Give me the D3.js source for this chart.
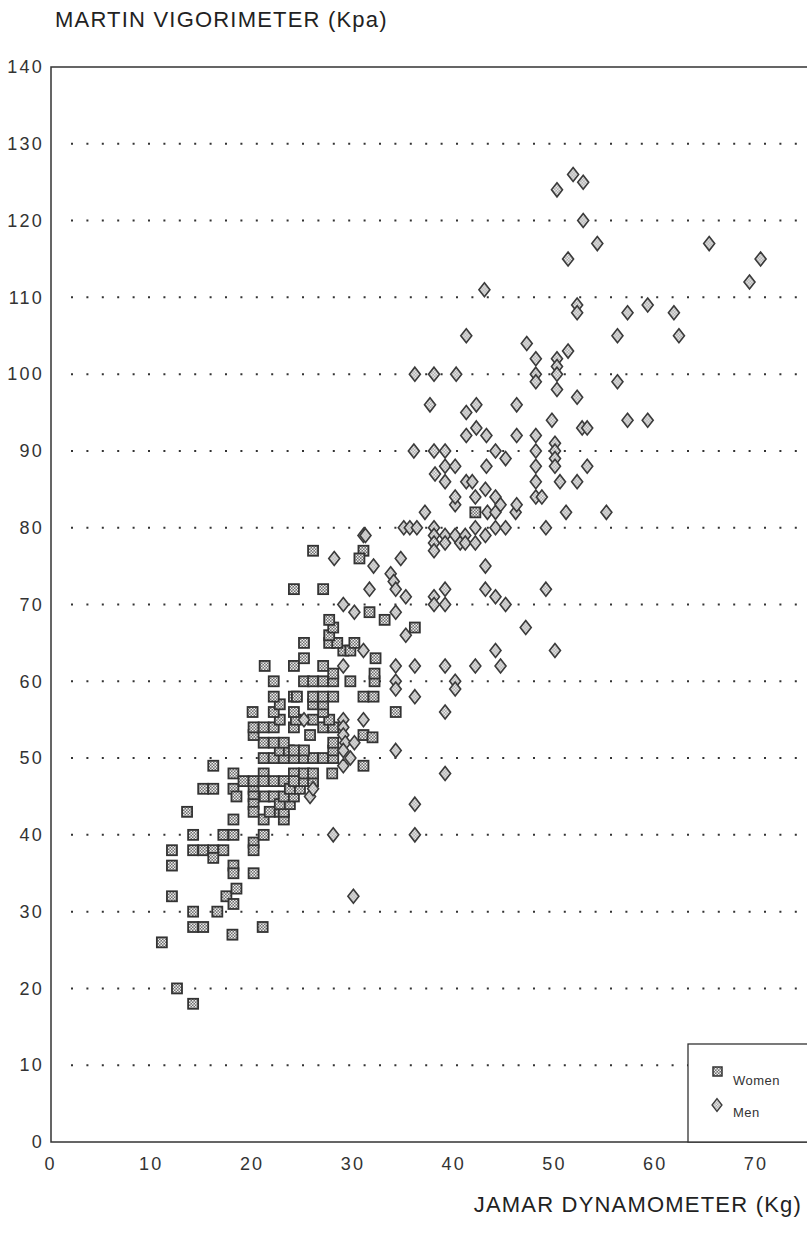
<!DOCTYPE html>
<html>
<head>
<meta charset="utf-8">
<script src="https://cdn.jsdelivr.net/npm/d3@7"></script>
<style>
  body { margin: 0; background: #fff; }
  svg { display: block; font-family: "Liberation Sans", Arial, sans-serif; }
</style>
</head>
<body>
<div id="chart"></div>
<script>
// Données : [dynamomètre Jamar (kg), vigorimètre Martin (kPa)]
const women = [
  [11,26],[12.5,20],[14.1,18],[14.1,28],[15.1,28],[21,28],[18,27],[14.1,30],[16.5,30],
  [12,32],[17.4,32],[18.1,31],[18.4,33],[12,36],[18.1,36],[18.1,35],[20.1,35],
  [12,38],[14.1,38],[15.1,38],[16.1,38],[17.1,38],[16.1,37],[20.1,39],[20.1,38],
  [14.1,40],[17.1,40],[18.1,40],[21.1,40],[13.5,43],[18.1,42],[21.1,42],[21.7,43],
  [22.7,43],[23.1,42],[23.1,43],[15.1,46],[16.1,46],[18.1,46],[18.4,45],[20.1,46],
  [20.1,45],[20.1,44],[20.1,43],[21.2,45],[22.1,45],[22.7,44],[23.7,45.4],[23.7,44],
  [16.1,49],[18.1,48],[21.1,48],[19.1,47],[20.1,47],[21.1,47],[22.1,47],[23.1,47],
  [24.1,48],[23.1,45],[24.1,45],[23.7,46],[24.7,46],[24.1,47],[25.1,47],[26,47],
  [25.1,48],[26,48],[27.9,48],[21.1,50],[22.1,50],[23.1,50],[24.1,50],[25.1,50],
  [26,50],[27,50],[28,50],[22.7,51],[23.6,51],[24.1,51],[25.1,51],[28,51],[21.1,52],
  [22.1,52],[23.1,52],[28,52],[20.1,53],[25.7,53],[20.1,54],[21.1,54],[22.1,54],
  [24.1,54],[27,54],[28,54],[22.7,55],[24.3,55],[26,55],[27.6,55],[20,56],[22.1,56],
  [24.1,56],[27,56],[26,57],[27,57],[22.7,57],[22.1,58],[24.1,58],[24.4,58],[26,58],
  [27,58],[28,58],[31,58],[32,58],[22.1,60],[25.1,60],[26,60],[27,60],[28,60],
  [29.7,60],[32.1,60],[28,61],[32.1,61],[21.2,62],[24.1,62],[27,62],[25.1,63],
  [32.2,63],[29,64],[29.7,64],[25.1,65],[27.6,65],[28.4,65],[30.1,65],[27.6,66],
  [28,67],[27.6,68],[33.1,68],[31.6,69],[24.1,72],[27,72],[31,53],[31.9,52.7],
  [34.2,56],[36.1,67],[26,77],[31,77],[30.6,76],[31,49],[42.1,82]
];
const men = [
  [30,32],[28,40],[36.1,40],[36.1,44],[39.1,48],[34.2,51],[39.1,56],[50,64],[44.1,64],
  [44.6,62],[42.1,62],[39.1,62],[36.1,62],[34.2,62],[29,62],[40.1,60],[40.1,59],
  [34.2,60],[34.2,59],[36.1,58],[31,55],[29,55],[25.1,55],[29,54],[29,53],[29.2,52],
  [30.1,52],[29,51],[29.7,50],[29,49],[25.7,45],[26,46],[31,64],[29,70],[30.1,69],
  [34.2,69],[35.2,66],[47.1,67],[49.1,72],[28.1,76],[32,75],[34.7,76],[33.7,74],
  [34,73],[34.2,72],[35.2,71],[31.6,72],[38,71],[39.1,72],[39.1,70],[38,70],[43.1,72],
  [44.1,71],[45.1,70],[43.1,75],[31,79],[31.2,79],[35,80],[35.6,80],[36.3,80],[38,80],
  [38,79],[38,78],[38,77],[39.1,79],[39.1,78],[40.1,79],[40.6,78],[41.1,79],[41.1,78],
  [42.1,80],[42.1,78],[43.1,79],[44.1,80],[45.1,80],[49.1,80],[37.1,82],[43.3,82],
  [44.1,82],[46.1,82],[51.1,82],[55.1,82],[40.1,83],[40.1,84],[42.1,84],[43.1,85],
  [44.1,84],[44.6,83],[46.2,83],[48.1,86],[48.1,84],[48.7,84],[39.1,86],[41.2,86],
  [41.8,86],[38.1,87],[39.1,88],[40.1,88],[43.2,88],[50.5,86],[52.2,86],[53.2,88],
  [36,90],[38,90],[39.1,90],[44.1,90],[45.1,89],[48.1,92],[48.1,90],[48.1,88],[50,91],
  [50,90],[50,89],[50,88],[41.2,92],[42.2,93],[43.2,92],[46.2,92],[52.7,93],[53.2,93],
  [49.7,94],[37.6,96],[41.2,95],[42.2,96],[46.2,96],[52.2,97],[36.1,100],[38,100],
  [40.2,100],[48.1,102],[48.1,100],[48.1,99],[50.2,102],[50.2,101],[50.2,100],
  [50.2,98],[47.2,104],[51.3,103],[41.2,105],[43,111],[52.2,109],[52.2,108],[57.2,108],
  [59.2,109],[61.8,108],[56.2,105],[62.3,105],[56.2,99],[57.2,94],[59.2,94],[51.3,115],
  [54.2,117],[65.3,117],[70.4,115],[69.3,112],[52.8,120],[50.2,124],[51.8,126],[52.8,125]
];
const xTicks = [0, 10, 20, 30, 40, 50, 60, 70];
const yTicks = [0, 10, 20, 30, 40, 50, 60, 70, 80, 90, 100, 110, 120, 130, 140];
const gridTicks = [10, 20, 30, 40, 50, 60, 70, 80, 90, 100, 110, 120, 130];
const seriesNames = ['Women', 'Men'];
const yTitle = 'MARTIN VIGORIMETER (Kpa)';
const xTitle = 'JAMAR DYNAMOMETER (Kg)';

const width = 807, height = 1235;
const margin = { top: 67, right: -6, bottom: 93, left: 51 };
const innerWidth = width - margin.left - margin.right;
const innerHeight = height - margin.top - margin.bottom;

const svg = d3.select('#chart').append('svg')
  .attr('width', width)
  .attr('height', height);

// Motifs de remplissage (quadrillage gris)
const defs = svg.append('defs');
const pSq = defs.append('pattern').attr('id', 'patSq')
  .attr('patternUnits', 'userSpaceOnUse').attr('width', 3).attr('height', 3);
pSq.append('rect').attr('width', 3).attr('height', 3).attr('fill', '#6e6e6e');
pSq.append('rect').attr('width', 1.5).attr('height', 1.5).attr('fill', '#eeeeee');
pSq.append('rect').attr('x', 1.5).attr('y', 1.5).attr('width', 1.5).attr('height', 1.5).attr('fill', '#eeeeee');
const pDi = defs.append('pattern').attr('id', 'patDi')
  .attr('patternUnits', 'userSpaceOnUse').attr('width', 3).attr('height', 3);
pDi.append('rect').attr('width', 3).attr('height', 3).attr('fill', '#a4a4a4');
pDi.append('rect').attr('width', 1.5).attr('height', 1.5).attr('fill', '#f2f2f2');
pDi.append('rect').attr('x', 1.5).attr('y', 1.5).attr('width', 1.5).attr('height', 1.5).attr('fill', '#f2f2f2');

const g = svg.append('g').attr('transform', `translate(${margin.left},${margin.top})`);

// Echelles
const x = d3.scaleLinear().domain([0, 75.6]).range([0, innerWidth]);
const y = d3.scaleLinear().domain([0, 140]).range([innerHeight, 0]);

// Grille pointillée
g.append('g').selectAll('line')
  .data(gridTicks)
  .enter()
  .append('line')
  .attr('x1', 20).attr('x2', innerWidth)
  .attr('y1', d => y(d)).attr('y2', d => y(d))
  .attr('stroke', '#333')
  .attr('stroke-width', 2)
  .attr('stroke-dasharray', '2,13.4');

// Cadre
g.append('rect')
  .attr('width', innerWidth).attr('height', innerHeight)
  .attr('fill', 'none')
  .attr('stroke', '#333')
  .attr('stroke-width', 1.5);

// Axes
const yAxis = g.append('g')
  .call(d3.axisLeft(y).tickValues(yTicks).tickSize(0).tickPadding(7));
const xAxis = g.append('g')
  .attr('transform', `translate(0,${innerHeight})`)
  .call(d3.axisBottom(x).tickValues(xTicks).tickSize(0).tickPadding(15));
[xAxis, yAxis].forEach(a => {
  a.select('.domain').remove();
  a.selectAll('text')
    .attr('fill', '#333')
    .style('font-size', '18px')
    .style('letter-spacing', '2.2px')
    .style('font-family', '"Liberation Sans", Arial, sans-serif');
});
xAxis.selectAll('text').attr('dx', '-1');

// Points : femmes (carrés)
g.append('g').selectAll('rect')
  .data(women)
  .enter()
  .append('rect')
  .attr('x', d => x(d[0]) - 5)
  .attr('y', d => y(d[1]) - 5)
  .attr('width', 10).attr('height', 10)
  .attr('fill', 'url(#patSq)')
  .attr('stroke', '#333')
  .attr('stroke-width', 1.8);

// Points : hommes (losanges)
const diamond = 'M0,-7L5.5,0L0,7L-5.5,0Z';
g.append('g').selectAll('path')
  .data(men)
  .enter()
  .append('path')
  .attr('d', diamond)
  .attr('transform', d => `translate(${x(d[0])},${y(d[1])})`)
  .attr('fill', 'url(#patDi)')
  .attr('stroke', '#3a3a3a')
  .attr('stroke-width', 1.6);

// Légende
const legend = svg.append('g').attr('transform', 'translate(688,1044)');
legend.append('rect')
  .attr('width', 140).attr('height', 98)
  .attr('fill', '#fff')
  .attr('stroke', '#333')
  .attr('stroke-width', 1.3);
legend.append('rect')
  .attr('x', 25).attr('y', 23).attr('width', 9).attr('height', 9)
  .attr('fill', 'url(#patSq)').attr('stroke', '#333').attr('stroke-width', 1.5);
legend.append('path')
  .attr('d', diamond)
  .attr('transform', 'translate(29,61) scale(0.9)')
  .attr('fill', 'url(#patDi)').attr('stroke', '#3a3a3a').attr('stroke-width', 1.5);
legend.selectAll('text.lab')
  .data(seriesNames)
  .enter()
  .append('text')
  .attr('class', 'lab')
  .attr('x', 45)
  .attr('y', (d, i) => 41 + i * 32)
  .attr('fill', '#333')
  .style('font-size', '13px')
  .style('letter-spacing', '0.5px')
  .text(d => d);

// Titres
svg.append('text')
  .attr('x', 55).attr('y', 27)
  .attr('fill', '#222')
  .style('font-size', '22px')
  .style('letter-spacing', '1.2px')
  .text(yTitle);
svg.append('text')
  .attr('x', 802).attr('y', 1212)
  .attr('text-anchor', 'end')
  .attr('fill', '#222')
  .style('font-size', '22px')
  .style('letter-spacing', '1.2px')
  .text(xTitle);
</script>
</body>
</html>
